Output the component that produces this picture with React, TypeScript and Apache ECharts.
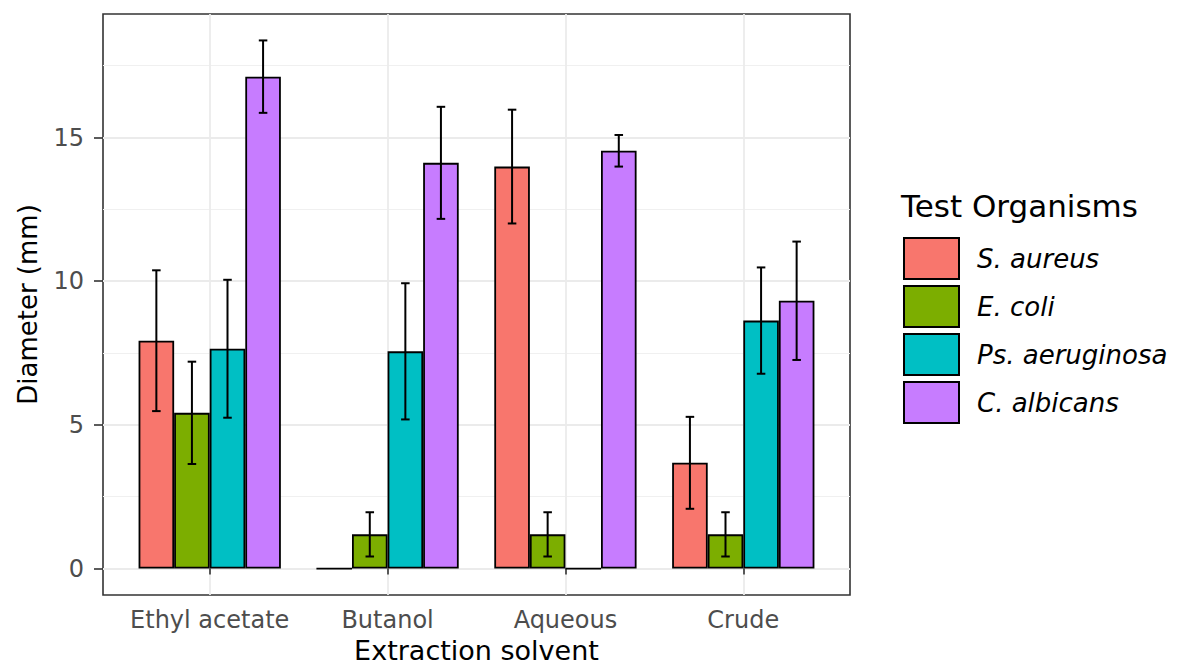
import React, { useEffect, useRef } from "react";
import * as echarts from "echarts";

const categories = ["Ethyl acetate", "Butanol", "Aqueous", "Crude"];
const organisms = ["S. aureus", "E. coli", "Ps. aeruginosa", "C. albicans"];
const colors = ["#F8766D", "#7CAE00", "#00BFC4", "#C77CFF"];

const sAureusMean = [7.93, 0, 13.99, 3.68];
const sAureusErr = [2.45, 0, 1.98, 1.6];
const eColiMean = [5.42, 1.19, 1.19, 1.19];
const eColiErr = [1.78, 0.77, 0.77, 0.77];
const psMean = [7.65, 7.56, 0, 8.63];
const psErr = [2.4, 2.37, 0, 1.85];
const cAlbMean = [17.12, 14.12, 14.54, 9.32];
const cAlbErr = [1.26, 1.95, 0.55, 2.06];

const yTicks = [0, 5, 10, 15];
const yMinorTicks = [2.5, 7.5, 12.5, 17.5];
const xTicks = [1, 2, 3, 4];

const means = [sAureusMean, eColiMean, psMean, cAlbMean];
const errs = [sAureusErr, eColiErr, psErr, cAlbErr];

const FONT = "DejaVu Sans";
const GRID = { left: 103, right: 333, top: 14, bottom: 72 };
const X_MIN = 0.4;
const X_MAX = 4.6;
const DODGE = 0.2;
const CAP_HALF = 0.024;

export default function App() {
  const ref = useRef<HTMLDivElement>(null);
  useEffect(() => {
    if (!ref.current) return;
    const chart = echarts.init(ref.current, undefined, { renderer: "svg" });
    const gridW = 1183 - GRID.left - GRID.right;
    const barW = (gridW / (X_MAX - X_MIN)) * DODGE;
    const xPos = (ci: number, k: number) => ci + 1 + (k - 1.5) * DODGE;

    const barSeries = organisms.map((name, k) => ({
      type: "bar",
      name,
      barWidth: barW,
      barGap: "-100%",
      itemStyle: { color: colors[k], borderColor: "#000", borderWidth: 1.8 },
      data: categories.map((_, ci) => [xPos(ci, k), means[k][ci]]),
      z: 3,
    }));

    const errData: number[][] = [];
    organisms.forEach((_, k) => {
      categories.forEach((_, ci) => {
        errData.push([xPos(ci, k), means[k][ci], errs[k][ci]]);
      });
    });

    const option: any = {
      animation: false,
      backgroundColor: "#fff",
      title: {
        text: "Test Organisms",
        left: 901,
        top: 190,
        padding: 0,
        textStyle: { fontFamily: FONT, fontSize: 31, fontWeight: "normal", color: "#000" },
      },
      legend: {
        data: organisms,
        orient: "vertical",
        left: 903,
        top: 237,
        itemWidth: 55,
        itemHeight: 41,
        itemGap: 5,
        icon: "rect",
        padding: 0,
        textStyle: {
          fontFamily: FONT,
          fontSize: 26,
          fontStyle: "italic",
          color: "#000",
          padding: [0, 0, 0, 13],
        },
      },
      grid: {
        ...GRID,
        show: true,
        borderColor: "#333",
        borderWidth: 1.6,
        backgroundColor: "#fff",
        containLabel: false,
        outerBoundsMode: "none",
      },
      xAxis: {
        type: "value",
        min: X_MIN,
        max: X_MAX,
        name: "Extraction solvent",
        nameLocation: "middle",
        nameGap: 37,
        nameTextStyle: { fontFamily: FONT, fontSize: 27, lineHeight: 27, color: "#000" },
        axisLine: { show: false },
        axisTick: { show: true, length: 6, customValues: xTicks, lineStyle: { color: "#333", width: 1.6 } },
        axisLabel: {
          customValues: xTicks,
          formatter: (v: number) => categories[Math.round(v) - 1] ?? "",
          fontFamily: FONT,
          fontSize: 24,
          color: "#4D4D4D",
          margin: 13,
        },
        splitLine: { show: true, lineStyle: { color: "#EBEBEB", width: 1.8 } },
      },
      yAxis: [
        {
          type: "value",
          min: -0.92,
          max: 19.3,
          name: "Diameter (mm)",
          nameLocation: "middle",
          nameGap: 62,
          nameTextStyle: { fontFamily: FONT, fontSize: 26, color: "#000" },
          axisLine: { show: false },
          axisTick: { show: true, length: 9, customValues: yTicks, lineStyle: { color: "#333", width: 1.6 } },
          axisLabel: { customValues: yTicks, fontFamily: FONT, fontSize: 24, color: "#4D4D4D", margin: 19 },
          splitLine: { show: true, lineStyle: { color: "#EBEBEB", width: 1.8 } },
        },
        {
          type: "value",
          min: -0.92,
          max: 19.3,
          position: "left",
          axisLine: { show: false },
          axisTick: { show: false, customValues: yMinorTicks },
          axisLabel: { show: false, customValues: yMinorTicks },
          splitLine: { show: true, lineStyle: { color: "#F0F0F0", width: 1.2 } },
        },
      ],
      series: [
        ...barSeries,
        {
          type: "custom",
          name: "errors",
          data: errData,
          z: 5,
          renderItem: (params: any, api: any) => {
            const x = api.value(0);
            const m = api.value(1);
            const e = api.value(2);
            if (!e) return null;
            const top = api.coord([x, m + e]);
            const bot = api.coord([x, m - e]);
            const l = api.coord([x - CAP_HALF, m])[0];
            const r = api.coord([x + CAP_HALF, m])[0];
            const st = { stroke: "#000", lineWidth: 2 };
            return {
              type: "group",
              children: [
                { type: "line", shape: { x1: top[0], y1: top[1], x2: bot[0], y2: bot[1] }, style: st },
                { type: "line", shape: { x1: l, y1: top[1], x2: r, y2: top[1] }, style: st },
                { type: "line", shape: { x1: l, y1: bot[1], x2: r, y2: bot[1] }, style: st },
              ],
            };
          },
        },
      ],
    };
    chart.setOption(option);
    return () => chart.dispose();
  }, []);
  return (
    <div
      ref={ref}
      style={{ position: "fixed", left: 0, top: 0, width: 1183, height: 667, background: "#fff" }}
    />
  );
}
